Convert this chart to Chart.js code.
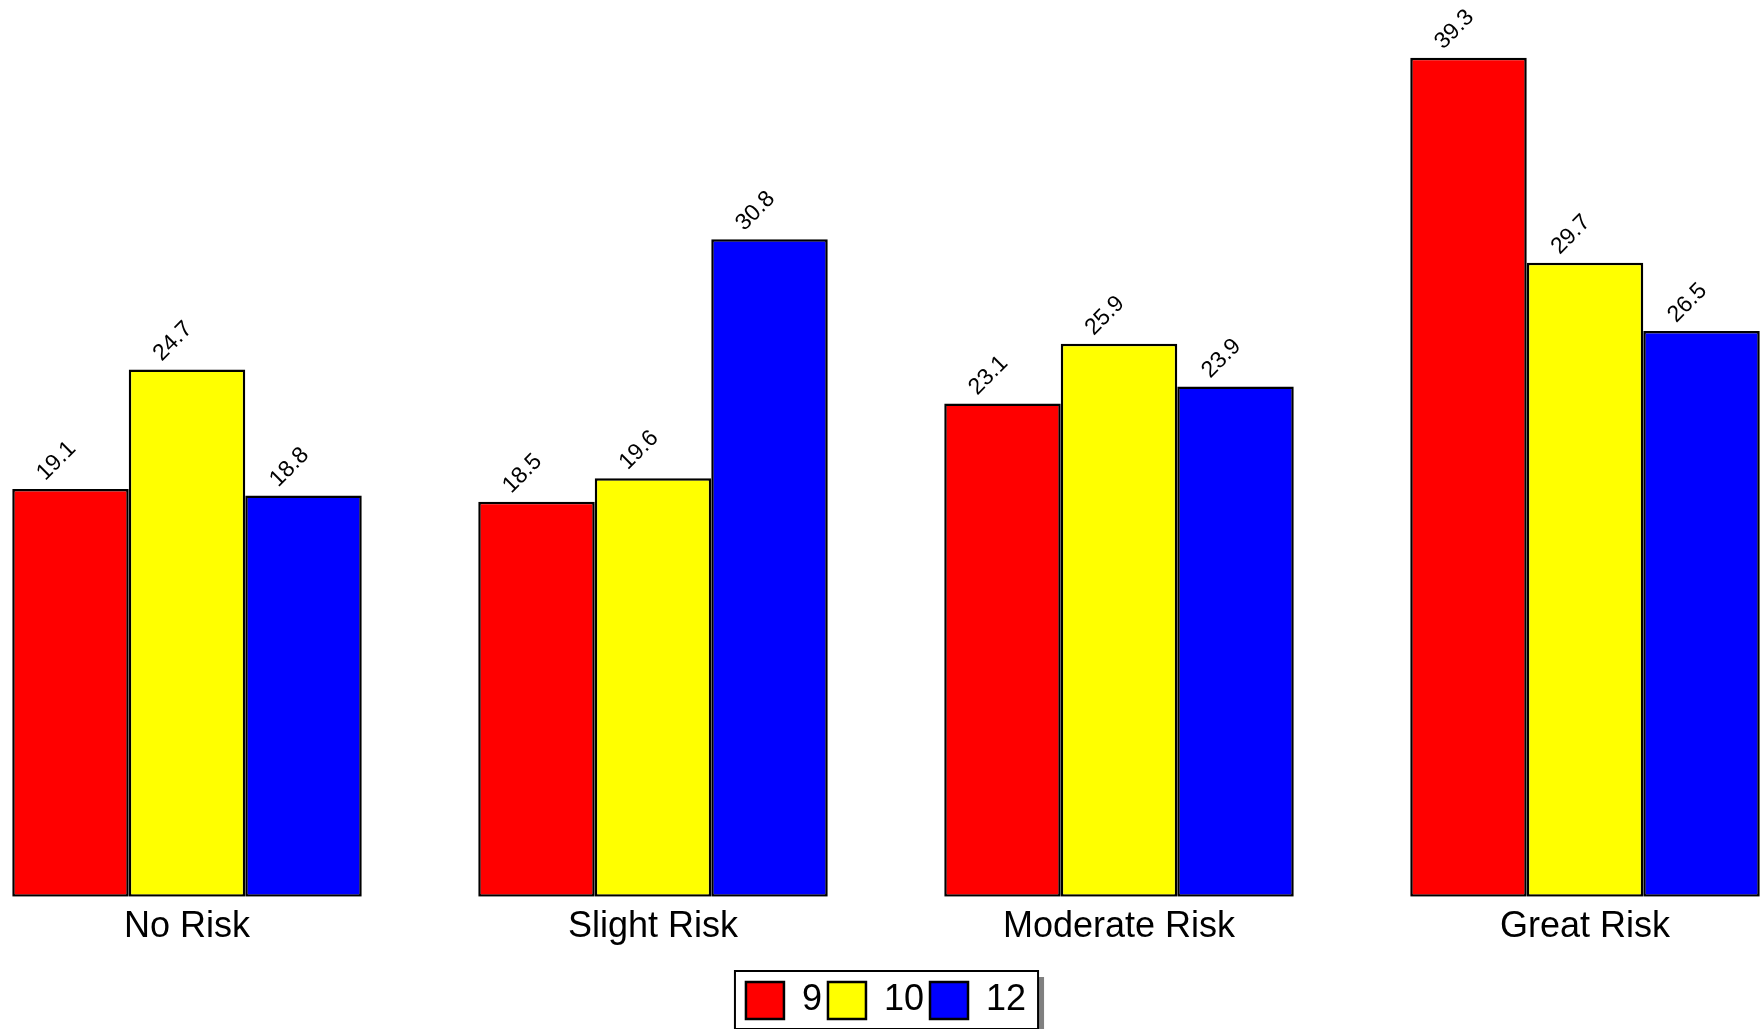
<!DOCTYPE html>
<html>
<head>
<meta charset="utf-8">
<script src="https://cdn.jsdelivr.net/npm/chart.js@4.4.1/dist/chart.umd.min.js"></script>
<style>
  html, body { margin: 0; padding: 0; background: #fff; overflow: hidden; }
  #wrap { position: absolute; left: -46px; top: 0; width: 1864px; height: 1029px; }
</style>
</head>
<body>
<div id="wrap"><canvas id="myChart"></canvas></div>
<script>
const categories = ['No Risk', 'Slight Risk', 'Moderate Risk', 'Great Risk'];
const grade9 = [19.1, 18.5, 23.1, 39.3];
const grade10 = [24.7, 19.6, 25.9, 29.7];
const grade12 = [18.8, 30.8, 23.9, 26.5];
const seriesLabels = ['9', '10', '12'];

const FONT = '"Liberation Sans", Arial, sans-serif';

// rotated value labels over each bar
const valueLabels = {
    id: 'valueLabels',
    afterDatasetsDraw(chart) {
        const ctx = chart.ctx;
        ctx.save();
        ctx.font = '23px ' + FONT;
        ctx.fillStyle = '#000';
        ctx.textAlign = 'center';
        ctx.textBaseline = 'middle';
        chart.data.datasets.forEach((ds, i) => {
            chart.getDatasetMeta(i).data.forEach((bar, j) => {
                ctx.save();
                ctx.translate(bar.x - 14, bar.y - 28);
                ctx.rotate(-Math.PI / 4);
                ctx.fillText(ds.data[j].toFixed(1), 0, 0);
                ctx.restore();
            });
        });
        ctx.restore();
    }
};

// frame + drop shadow around the legend
const legendFrame = {
    id: 'legendFrame',
    beforeDraw(chart) {
        const boxes = chart.legend.legendHitBoxes;
        if (!boxes || !boxes.length) return;
        const left = Math.min(...boxes.map(b => b.left)) - 11;
        const right = Math.max(...boxes.map(b => b.left + b.width)) + 12;
        const top = boxes[0].top - 11;
        const bottom = boxes[0].top + boxes[0].height + 10;
        const ctx = chart.ctx;
        ctx.save();
        ctx.fillStyle = '#808080';
        ctx.fillRect(left + 6, top + 6, right - left, bottom - top);
        ctx.fillStyle = '#fff';
        ctx.fillRect(left, top, right - left, bottom - top);
        ctx.lineWidth = 2;
        ctx.strokeStyle = '#000';
        ctx.strokeRect(left, top, right - left, bottom - top);
        ctx.restore();
    }
};

const data = {
    labels: categories,
    datasets: [
        { label: seriesLabels[0], data: grade9, backgroundColor: '#ff0000' },
        { label: seriesLabels[1], data: grade10, backgroundColor: '#ffff00' },
        { label: seriesLabels[2], data: grade12, backgroundColor: '#0000ff' }
    ].map(d => Object.assign(d, { borderColor: '#000', borderWidth: 2.5, borderSkipped: false }))
};

const config = {
    type: 'bar',
    data: data,
    options: {
        responsive: true,
        maintainAspectRatio: false,
        animation: false,
        datasets: { bar: { categoryPercentage: 0.75, barPercentage: 1 } },
        layout: { padding: 0 },
        scales: {
            x: {
                grid: { display: false, drawTicks: false },
                border: { display: false },
                ticks: { color: '#000', font: { family: FONT, size: 36 }, padding: 9 },
                afterFit(scale) { scale.height += 18; }
            },
            y: { display: false, min: 0, max: 42 }
        },
        plugins: {
            tooltip: { enabled: false },
            legend: {
                position: 'bottom',
                labels: {
                    color: '#000',
                    font: { family: FONT, size: 36 },
                    boxWidth: 38,
                    boxHeight: 37,
                    padding: 6
                }
            }
        }
    },
    plugins: [valueLabels, legendFrame]
};

new Chart(document.getElementById('myChart'), config);
</script>
</body>
</html>
